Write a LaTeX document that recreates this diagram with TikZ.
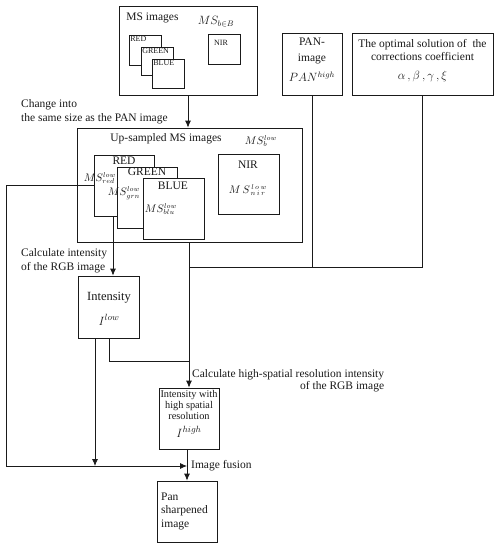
\documentclass[tikz,border=0pt]{standalone}
\usepackage{fontspec}
\setmainfont{Liberation Serif}
\usetikzlibrary{arrows.meta,positioning,calc}
\definecolor{ink}{HTML}{1A1A1A}
\tikzset{
  box/.style={draw=ink,line width=0.8pt,fill=white,inner sep=0pt},
  txt/.style={inner sep=0pt,align=center,text=ink,font=\fontsize{11.5}{14}\selectfont},
  msl/.style={txt,font=\fontsize{10.5}{12}\selectfont},
  tiny/.style={inner sep=1.5pt,text=ink,font=\fontsize{8}{9}\selectfont},
  link/.style={draw=ink,line width=0.8pt},
  arr/.style={link,-{Latex[length=7pt,width=6pt]}}
}

\begin{document}
\begin{tikzpicture}[x=1pt,y=-1pt]
\useasboundingbox (0,0) rectangle (502,550);

% MS images
\node[box,minimum width=138pt,minimum height=89pt] (ms) at (188,50.5) {};
\node[txt] (mstitle) at (152.5,18) {MS images};
\node[txt] (msset) at (216,22) {$MS_{b\in B}$};
\node[box,minimum width=32pt,minimum height=30pt] (red1) at (145,50) {};
\node[tiny,anchor=north west] (redlbl1) at (red1.north west) {RED};
\node[box,minimum width=32pt,minimum height=28pt] (grn1) at (157,61) {};
\node[tiny,anchor=north west] (grnlbl1) at (grn1.north west) {GREEN};
\node[box,minimum width=32pt,minimum height=29pt] (blu1) at (168,73.5) {};
\node[tiny,anchor=north west] (blulbl1) at (blu1.north west) {BLUE};
\node[box,minimum width=32pt,minimum height=30pt] (nir1) at (224,49) {};
\node[tiny] (nirlbl1) at (221,43) {NIR};

% PAN image and coefficients
\node[box,minimum width=60pt,minimum height=62pt] (pan) at (312,64) {};
\node[txt,font=\fontsize{11.5}{16}\selectfont] (pantxt) at (312,51) {PAN-\\image};
\node[txt] (panhigh) at (312,77) {$PAN^{high}$};
\node[box,minimum width=141pt,minimum height=62pt] (opt) at (422.5,64) {};
\node[txt,font=\fontsize{11.5}{13}\selectfont] (opttxt) at (422.5,50)
  {The optimal solution of\ \ the\\corrections coefficient};
\node[txt] (optsym) at (422.5,76) {$\alpha\,,\beta\,,\gamma\,,\xi$};

\node[txt,align=left,anchor=north west] (chg) at (21,99.5)
  {Change into\\the same size as the PAN image};

% up-sampled MS images
\node[box,minimum width=225pt,minimum height=114pt] (up) at (189.5,185) {};
\node[txt] (uptitle) at (166,139) {Up-sampled MS images};
\node[msl] (upset) at (261,141) {$MS_{b}^{low}$};
\node[box,minimum width=60pt,minimum height=61pt] (red2) at (124,185.5) {};
\node[txt] (redlbl2) at (124,161) {RED};
\node[msl] (redms) at (100,178) {$MS_{red}^{low}$};
\node[box,minimum width=60pt,minimum height=61pt] (grn2) at (147,197.5) {};
\node[txt] (grnlbl2) at (147,172) {GREEN};
\node[msl] (grnms) at (124,193) {$MS_{grn}^{low}$};
\node[box,minimum width=61pt,minimum height=61pt] (blu2) at (173.5,208.5) {};
\node[txt] (blulbl2) at (173,186) {BLUE};
\node[msl] (blums) at (161,209) {$MS_{blu}^{low}$};
\node[box,minimum width=61pt,minimum height=60pt] (nir2) at (248.5,184) {};
\node[txt] (nirlbl2) at (248,165) {NIR};
\node[msl] (nirms) at (248,190) {$M\,S_{\,n\,i\,r}^{\,l\,o\,w}$};

\node[txt,align=left,anchor=north west] (calcint) at (21,248)
  {Calculate intensity\\of the RGB image};

% intensity
\node[box,minimum width=61pt,minimum height=62pt] (int) at (109,307) {};
\node[txt,font=\fontsize{12.5}{14}\selectfont] (inttxt) at (109,298) {Intensity};
\node[txt,font=\fontsize{12.5}{14}\selectfont] (ilow) at (109,320) {$I^{low}$};

\node[txt,align=right,anchor=north west,font=\fontsize{11.5}{12}\selectfont] (calchigh) at (192,369)
  {Calculate high-spatial resolution intensity\\of the RGB image};

% intensity with high spatial resolution
\node[box,minimum width=60pt,minimum height=61pt] (ihigh) at (189,418.5) {};
\node[txt,font=\fontsize{10.3}{11}\selectfont] (ihightxt) at (189,405)
  {Intensity with\\high spatial\\resolution};
\node[txt,font=\fontsize{12.5}{14}\selectfont] (ihighsym) at (189,432) {$I^{high}$};

\node[txt,anchor=west] (fusion) at (191,466) {Image fusion};

% pan sharpened image
\node[box,minimum width=60pt,minimum height=61pt] (pans) at (187,511.5) {};
\node[txt,align=left,anchor=west,font=\fontsize{11.5}{13.5}\selectfont] (panstxt) at (161,511)
  {Pan\\sharpened\\image};

% connectors
\coordinate (fuse) at (187,466);
\coordinate (merge) at (189,361);
\coordinate (bus) at (189,267);
\coordinate (rgb) at ($(int.north)+(4,0)$);
\coordinate (ilo) at ($(int.south)+(-14,0)$);
\draw[arr] (ms.south) -- (ms.south |- up.north);
\draw[arr] (red2.west) -- ++(-87,0) |- (fuse);
\draw[arr] (red2.south -| rgb) -- (rgb);
\draw[arr] (ilo) -- (ilo |- fuse);
\draw[link] (int.south) |- (merge);
\draw[arr] (up.south -| ihigh.north) -- (ihigh.north);
\draw[link] (opt.south) |- (bus);
\draw[link] (pan.south) -- (pan.south |- bus);
\draw[arr] (ihigh.south -| pans.north) -- (pans.north);
\end{tikzpicture}
\end{document}
